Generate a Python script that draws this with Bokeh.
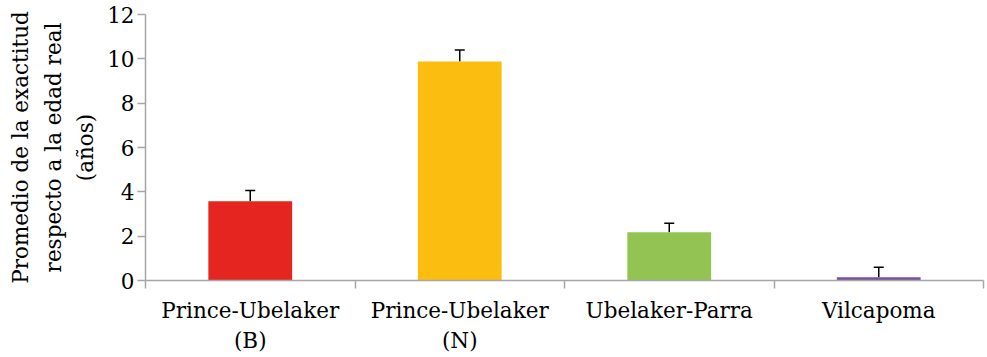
from bokeh.plotting import figure
from bokeh.models import ColumnDataSource, Range1d, FixedTicker, Whisker, TeeHead
from bokeh.embed import file_html
from bokeh.resources import INLINE

categories = ["Prince-Ubelaker\n(B)", "Prince-Ubelaker\n(N)", "Ubelaker-Parra", "Vilcapoma"]
values = [3.58, 9.88, 2.18, 0.15]
errors = [0.48, 0.52, 0.40, 0.45]
colors = ["#E42520", "#FBBE10", "#93C352", "#7B4FA0"]
y_ticks = [0, 2, 4, 6, 8, 10, 12]

n = len(categories)
xs = [i + 0.5 for i in range(n)]
src = ColumnDataSource(dict(
    x=xs, top=values, color=colors,
    lower=values, upper=[v + e for v, e in zip(values, errors)],
))

FONT = "DejaVu Serif"
FS = "21.5px"
AX = "#a6a6a6"

p = figure(width=987, height=357, output_backend="svg", toolbar_location=None,
           x_range=Range1d(0, n), y_range=Range1d(0, 12),
           min_border_left=145, min_border_right=4, min_border_top=14, min_border_bottom=77)
p.outline_line_color = None
p.xgrid.visible = False
p.ygrid.visible = False

p.vbar(x="x", top="top", bottom=0, width=0.4, fill_color="color", line_color=None, source=src)
p.add_layout(Whisker(source=src, base="x", lower="lower", upper="upper",
                     line_color="black", line_width=1.5, lower_head=None,
                     upper_head=TeeHead(size=10, line_color="black", line_width=1.5)))

xa = p.xaxis[0]
xa.ticker = FixedTicker(ticks=xs, minor_ticks=list(range(n + 1)))
xa.major_label_overrides = {x: c for x, c in zip(xs, categories)}
xa.axis_line_color = AX
xa.axis_line_width = 1.5
xa.major_tick_line_color = None
xa.major_tick_out = 0
xa.major_tick_in = 0
xa.minor_tick_line_color = AX
xa.minor_tick_line_width = 1.5
xa.minor_tick_out = 8
xa.minor_tick_in = 0
xa.major_label_standoff = 9
xa.major_label_text_font = FONT
xa.major_label_text_font_size = FS
xa.major_label_text_color = "black"
xa.major_label_text_line_height = 1.2

ya = p.yaxis[0]
ya.ticker = FixedTicker(ticks=y_ticks, minor_ticks=[])
ya.axis_line_color = AX
ya.axis_line_width = 1.5
ya.major_tick_line_color = AX
ya.major_tick_line_width = 1.5
ya.major_tick_out = 8
ya.major_tick_in = 0
ya.minor_tick_line_color = None
ya.major_label_standoff = 3
ya.major_label_text_font = FONT
ya.major_label_text_font_size = FS
ya.major_label_text_color = "black"
ya.axis_label = "Promedio de la exactitud\nrespecto a la edad real\n(años)"
ya.axis_label_text_font = FONT
ya.axis_label_text_font_size = FS
ya.axis_label_text_font_style = "normal"
ya.axis_label_text_color = "black"
ya.axis_label_text_line_height = 1.3
ya.axis_label_standoff = 6

open("out.html", "w").write(file_html(p, INLINE))
